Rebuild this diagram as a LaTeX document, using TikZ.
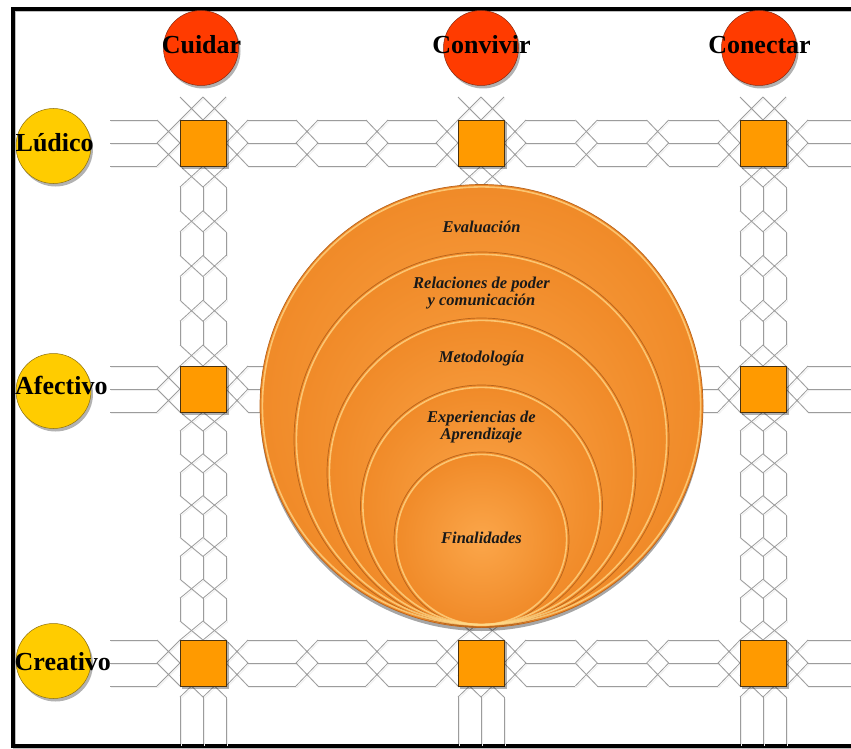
\documentclass[tikz,border=0pt]{standalone}
\usepackage{fontspec}
\setmainfont{Liberation Serif}
\definecolor{cablegray}{HTML}{9C9C9C}
\definecolor{cableshade}{HTML}{EFEFEF}
\definecolor{sqfill}{HTML}{FF9A00}
\definecolor{sqedge}{HTML}{4A3210}
\definecolor{headred}{HTML}{FF3B00}
\definecolor{headedge}{HTML}{8A2A10}
\definecolor{rowyel}{HTML}{FFCC00}
\definecolor{rowedge}{HTML}{8C7010}
\definecolor{orin}{HTML}{FBA64A}
\definecolor{orout}{HTML}{F08A28}
\definecolor{oredge}{HTML}{B8641C}
\definecolor{orrim}{HTML}{FFD98A}

% one straight stretch of a three-strand cable
\newcommand\hcell[3]{\draw[cable] (#2,#1-23) -- (#3,#1-23) (#2,#1) -- (#3,#1) (#2,#1+23) -- (#3,#1+23);}
\newcommand\vcell[3]{\draw[cable] (#1-23,#2) -- (#1-23,#3) (#1,#2) -- (#1,#3) (#1+23,#2) -- (#1+23,#3);}
% crossing of the strands between two stretches
\newcommand\hjunc[3]{\draw[cable] (#2,#1-23) -- (#3,#1) (#2,#1) -- (#3,#1-23) (#2,#1) -- (#3,#1+23) (#2,#1+23) -- (#3,#1);}
\newcommand\vjunc[3]{\draw[cable] (#1-23,#2) -- (#1,#3) (#1,#2) -- (#1-23,#3) (#1,#2) -- (#1+23,#3) (#1+23,#2) -- (#1,#3);}
% braided run from a to b: #4 stretches, crossings of length #5
\newcommand\hrun[5]{%
  \pgfmathsetmacro\cabC{(#3-#2-(#4+1)*#5)/#4}%
  \hjunc{#1}{#2}{#2+#5}%
  \foreach \k in {1,...,#4}{%
    \pgfmathsetmacro\cabS{#2+#5+(\k-1)*(\cabC+#5)}%
    \pgfmathsetmacro\cabE{\cabS+\cabC}%
    \hcell{#1}{\cabS}{\cabE}%
    \hjunc{#1}{\cabE}{\cabE+#5}%
  }}
\newcommand\vrun[5]{%
  \pgfmathsetmacro\cabC{(#3-#2-(#4+1)*#5)/#4}%
  \vjunc{#1}{#2}{#2+#5}%
  \foreach \k in {1,...,#4}{%
    \pgfmathsetmacro\cabS{#2+#5+(\k-1)*(\cabC+#5)}%
    \pgfmathsetmacro\cabE{\cabS+\cabC}%
    \vcell{#1}{\cabS}{\cabE}%
    \vjunc{#1}{\cabE}{\cabE+#5}%
  }}
\newcommand\allcables{%
  \foreach \ry in {143,389,663}{%
    \hcell{\ry}{110}{157}\hjunc{\ry}{157}{180}%
    \hrun{\ry}{226}{458}{3}{22}%
    \hrun{\ry}{504}{740}{3}{22}%
    \hjunc{\ry}{786}{808}\hcell{\ry}{808}{880}%
  }%
  \foreach \cx in {203,481,763}{%
    \vjunc{\cx}{97}{120}%
    \vrun{\cx}{166}{366}{4}{21}%
    \vrun{\cx}{412}{640}{5}{19}%
    \vjunc{\cx}{675}{697}\vcell{\cx}{697}{744}%
  }}

\begin{document}
\begin{tikzpicture}[x=1pt,y=-1pt,
  cable/.style={line width=0.8pt},
  sq/.style={rectangle,draw=sqedge,fill=sqfill,line width=0.8pt,minimum size=46pt,inner sep=0pt},
  headc/.style={circle,fill=headred,draw=headedge,line width=0.5pt,minimum size=75pt,inner sep=0pt},
  rowc/.style={circle,fill=rowyel,draw=rowedge,line width=0.5pt,minimum size=75pt,inner sep=0pt},
  biglab/.style={font=\bfseries\fontsize{26}{26}\selectfont,inner sep=0pt},
  ring/.style={circle,inner sep=0pt,outer sep=0pt,inner color=orin,outer color=orout,draw=oredge,line width=0.7pt},
  ringlab/.style={font=\bfseries\itshape\fontsize{16.5}{17}\selectfont,align=center,inner sep=0pt,text=black!90}]
\useasboundingbox (0,0) rectangle (851,749);
\clip (0,0) rectangle (851,749);
\fill[white] (0,0) rectangle (851,749);

% frame
\draw[black!25,line width=3pt] (14.5,11) rectangle (905,748);
\draw[line width=3.6pt] (12.8,9) rectangle (900,746);

% braided cables, with a soft offset shade
\begin{scope}[color=cableshade,shift={(1,1.5)}]
  \allcables
\end{scope}
\begin{scope}[color=cablegray]
  \allcables
\end{scope}

% junction squares
\foreach \cx/\cn in {203/1,481/2,763/3}{
  \foreach \ry/\rn in {143/1,389/2,663/3}{
    \ifnum\cn\rn=22\else
      \fill[black,opacity=.3] (\cx-21,\ry-21) rectangle (\cx+25.5,\ry+25.5);
      \node[sq] (s\cn\rn) at (\cx,\ry) {};
    \fi
  }}

% nested rings
\fill[black,opacity=.35] (481.5,409.5) circle[radius=221.5pt];
\node[ring,minimum size=443pt] (evaluacion) at (481.5,406) {};
\node[ring,minimum size=375pt] (relaciones) at (481.5,439.5) {};
\node[ring,minimum size=309pt] (metodologia) at (481.5,472.5) {};
\node[ring,minimum size=242pt] (experiencias) at (481.5,506) {};
\node[ring,minimum size=175pt] (finalidades) at (481.5,539.5) {};
\foreach \nm/\r in {evaluacion/221.5,relaciones/187.5,metodologia/154.5,experiencias/121,finalidades/87.5}{
  \draw[orrim,opacity=.75,line width=1.6pt] (\nm.center) circle[radius=\r pt-2.4pt];
}

\node[ringlab] (tev) at (481.5,227) {Evaluación};
\node[ringlab] (trel) at (481.5,293) {Relaciones de poder\\y comunicación};
\node[ringlab] (tmet) at (481.5,359) {Metodología};
\node[ringlab] (texp) at (481.5,427) {Experiencias de\\Aprendizaje};
\node[ringlab] (tfin) at (481.5,538) {Finalidades};

% column heads
\foreach \nm/\cx in {cuidar/201,convivir/481,conectar/759}{
  \fill[black,opacity=.3] (\cx+2,51) circle[radius=37.5pt];
  \node[headc] (\nm) at (\cx,48) {};
}
\node[biglab,anchor=base] (tcuidar) at (201.5,54) {Cuidar};
\node[biglab,anchor=base] (tconvivir) at (481.5,54) {Convivir};
\node[biglab,anchor=base] (tconectar) at (759.5,54) {Conectar};

% row heads
\foreach \nm/\ry in {ludico/146,afectivo/391,creativo/661}{
  \fill[black,opacity=.3] (55.5,\ry+3) circle[radius=37.5pt];
  \node[rowc] (\nm) at (53.5,\ry) {};
}
\node[biglab,anchor=base west] (tludico) at (15.5,151) {Lúdico};
\node[biglab,anchor=base west] (tafectivo) at (15,394) {Afectivo};
\node[biglab,anchor=base west] (tcreativo) at (14.5,670) {Creativo};
\end{tikzpicture}
\end{document}
